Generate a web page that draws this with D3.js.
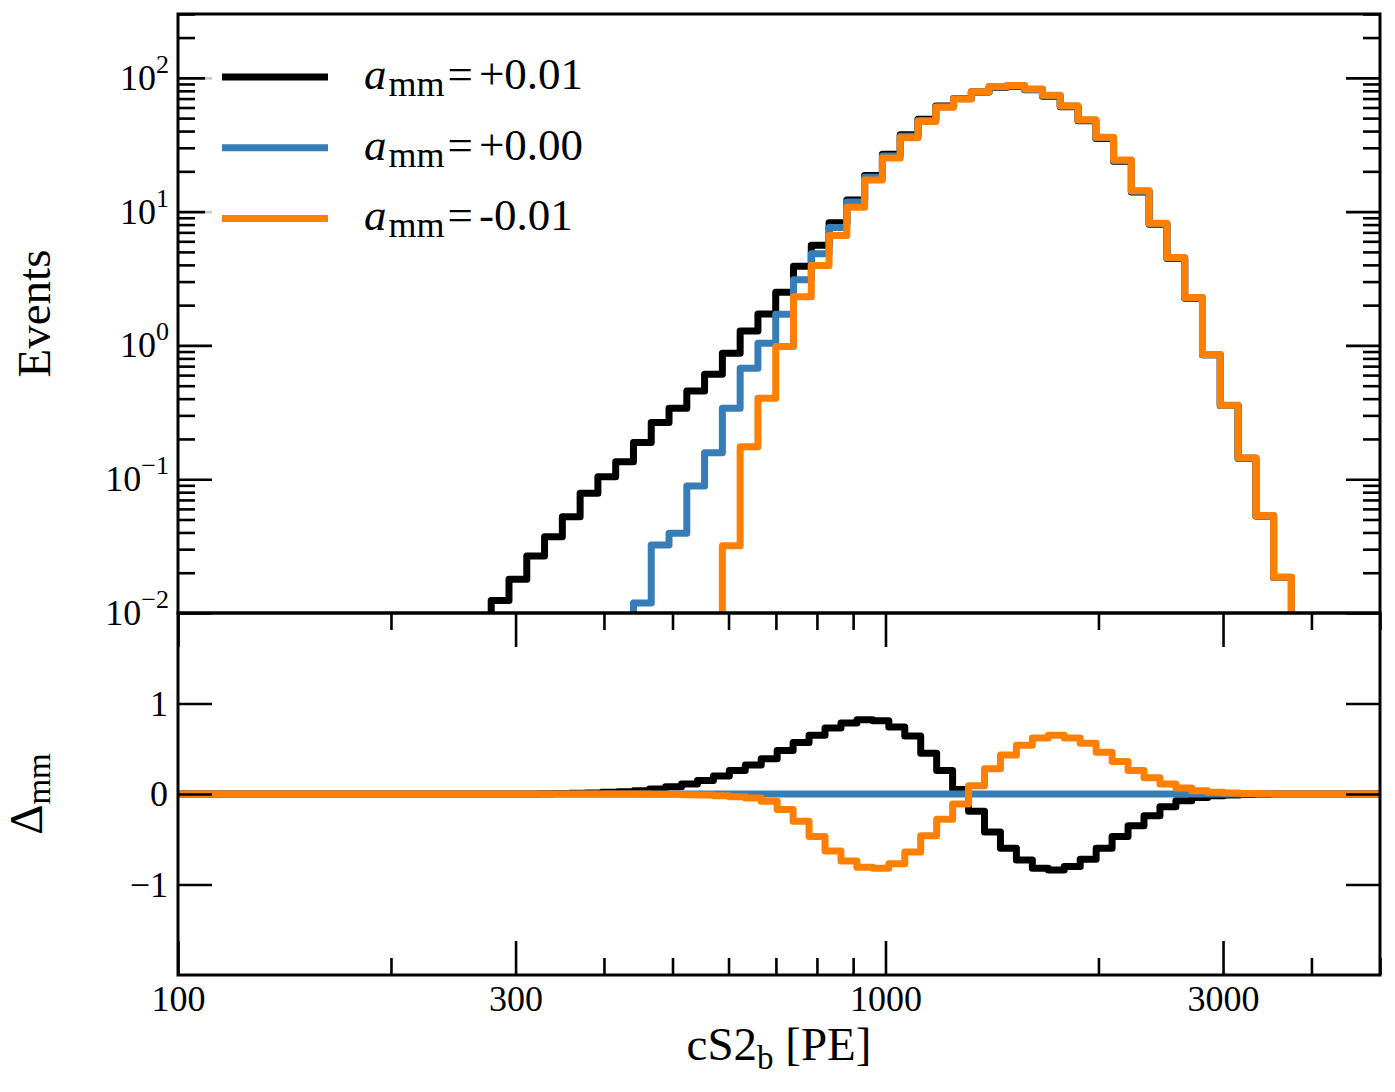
<!DOCTYPE html>
<html>
<head>
<meta charset="utf-8">
<script src="https://cdn.jsdelivr.net/npm/d3@7"></script>
<style>
  body { margin: 0; background: #fff; }
  svg text { font-family: "Liberation Serif", "DejaVu Serif", serif; fill: #000; }
</style>
</head>
<body>
<div class="chart"></div>
<script>
// bin edges (cS2_b in PE) of the event histograms, upper panel
const topEdges = [97.79, 103.62, 109.79, 116.33, 123.26, 130.61, 138.39, 146.63, 155.37, 164.63,
  174.43, 184.83, 195.84, 207.51, 219.87, 232.97, 246.85, 261.56, 277.14, 293.66,
  311.15, 329.69, 349.33, 370.15, 392.20, 415.57, 440.33, 466.56, 494.36, 523.81,
  555.02, 588.09, 623.13, 660.25, 699.59, 741.27, 785.44, 832.24, 881.82, 934.36,
  990.03, 1049.02, 1111.52, 1177.74, 1247.91, 1322.26, 1401.04, 1484.52, 1572.96, 1666.68,
  1765.98, 1871.20, 1982.68, 2100.81, 2225.98, 2358.60, 2499.13, 2648.03, 2805.79, 2972.96,
  3150.09, 3337.77, 3536.63, 3747.34, 3970.6, 4207.2, 4457.8, 4723.4, 5004.8];

// bin edges of the residual panel
const bottomEdges = [97.79, 103.00, 108.49, 114.27, 120.36, 126.77, 133.52, 140.63, 148.12, 156.01,
  164.32, 173.08, 182.30, 192.01, 202.24, 213.02, 224.37, 236.32, 248.91, 262.17,
  276.14, 290.85, 306.35, 322.67, 339.86, 357.97, 377.04, 397.13, 418.29, 440.57,
  464.04, 488.77, 514.81, 542.24, 571.13, 601.56, 633.61, 667.37, 702.92, 740.37,
  779.81, 821.36, 865.12, 911.21, 959.76, 1010.89, 1064.75, 1121.47, 1181.22, 1244.15,
  1310.44, 1380.26, 1453.79, 1531.25, 1612.83, 1698.76, 1789.26, 1884.59, 1984.99, 2090.75,
  2202.14, 2319.46, 2443.03, 2573.19, 2710.28, 2854.68, 3006.77, 3166.96, 3335.69, 3513.41,
  3700.59, 3897.75, 4105.41, 4324.14, 4554.52, 4797.17, 5052.75];

// events per bin
const eventsPlus = [0.0001, 0.0001, 0.0001, 0.0001, 0.0001, 0.0001, 0.0001, 0.0001, 0.0001, 0.0001,
  0.0003, 0.0005, 0.0008, 0.0013, 0.002, 0.0032, 0.005, 0.0078, 0.0124, 0.0179,
  0.0267, 0.0372, 0.0525, 0.0785, 0.1045, 0.135, 0.188, 0.265, 0.339, 0.457,
  0.609, 0.875, 1.28, 1.72, 2.5, 3.91, 5.61, 8.24, 12.2, 18.6,
  26.8, 37.5, 49.0, 61.5, 70.1, 78.4, 85.2, 86.6, 81.3, 72.9,
  60.8, 47.7, 35.2, 23.8, 14.0, 8.05, 4.47, 2.25, 0.85, 0.355,
  0.143, 0.053, 0.0184, 0.006, 0.0018, 0.0005, 0.0001, 0.0001];
const eventsZero = [0.0001, 0.0001, 0.0001, 0.0001, 0.0001, 0.0001, 0.0001, 0.0001, 0.0001, 0.0001,
  0.0001, 0.0001, 0.0001, 0.0001, 0.0001, 0.0001, 0.0001, 0.0001, 0.0001, 0.0002,
  0.0004, 0.0008, 0.0014, 0.0025, 0.0045, 0.0075, 0.0119, 0.0322, 0.0394, 0.089,
  0.158, 0.339, 0.674, 1.04, 1.71, 3.1, 4.85, 7.6, 11.8, 18.1,
  26.0, 36.6, 48.0, 60.8, 69.8, 78.6, 85.7, 87.2, 81.9, 73.5,
  61.3, 48.2, 35.6, 24.1, 14.2, 8.13, 4.51, 2.27, 0.853, 0.356,
  0.144, 0.0533, 0.0185, 0.006, 0.0018, 0.0005, 0.0001, 0.0001];
const eventsMinus = [0.0001, 0.0001, 0.0001, 0.0001, 0.0001, 0.0001, 0.0001, 0.0001, 0.0001, 0.0001,
  0.0001, 0.0001, 0.0001, 0.0001, 0.0001, 0.0001, 0.0001, 0.0001, 0.0001, 0.0001,
  0.0001, 0.0001, 0.0001, 0.0001, 0.0001, 0.0001, 0.0001, 0.0001, 0.0003, 0.002,
  0.006, 0.0318, 0.175, 0.403, 0.98, 2.31, 3.96, 6.62, 10.8, 17.2,
  25.2, 35.7, 47.2, 60.2, 69.6, 78.8, 86.1, 87.7, 82.4, 74.0,
  61.8, 48.6, 35.9, 24.3, 14.3, 8.2, 4.54, 2.28, 0.855, 0.357,
  0.144, 0.0535, 0.0185, 0.006, 0.0018, 0.0005, 0.0001, 0.0001];

// residuals per bin
const deltaPlus = [0, 0, 0, 0, 0, 0, 0, 0, 0, 0,
  0, 0, 0, 0, 0, 0, 0, 0, 0, 0,
  0, 0, 0, 0.003, 0.005, 0.008, 0.012, 0.018, 0.026, 0.037,
  0.055, 0.08, 0.11, 0.15, 0.2, 0.26, 0.32, 0.39, 0.48, 0.57,
  0.65, 0.73, 0.785, 0.82, 0.81, 0.74, 0.64, 0.45, 0.26, 0.05,
  -0.19, -0.42, -0.60, -0.73, -0.82, -0.84, -0.80, -0.72, -0.60, -0.47,
  -0.35, -0.24, -0.14, -0.075, -0.038, -0.02, -0.01, -0.005, -0.002, 0,
  0, 0, 0, 0, 0, 0];
const deltaZero = [0, 0, 0, 0, 0, 0, 0, 0, 0, 0,
  0, 0, 0, 0, 0, 0, 0, 0, 0, 0,
  0, 0, 0, 0, 0, 0, 0, 0, 0, 0,
  0, 0, 0, 0, 0, 0, 0, 0, 0, 0,
  0, 0, 0, 0, 0, 0, 0, 0, 0, 0,
  0, 0, 0, 0, 0, 0, 0, 0, 0, 0,
  0, 0, 0, 0, 0, 0, 0, 0, 0, 0,
  0, 0, 0, 0, 0, 0];
const deltaMinus = [0, 0, 0, 0, 0, 0, 0, 0, 0, 0,
  0, 0, 0, 0, 0, 0, 0, 0, 0, 0,
  0, 0, 0, 0, 0, 0, 0, 0, 0, -0.001,
  -0.002, -0.004, -0.007, -0.012, -0.02, -0.03, -0.045, -0.08, -0.17, -0.30,
  -0.47, -0.63, -0.74, -0.81, -0.82, -0.77, -0.64, -0.46, -0.28, -0.11,
  0.09, 0.28, 0.43, 0.54, 0.62, 0.65, 0.62, 0.56, 0.46, 0.36,
  0.26, 0.18, 0.11, 0.065, 0.037, 0.02, 0.01, 0.005, 0.002, 0,
  0, 0, 0, 0, 0, 0];

const seriesNames = ["+0.01", "+0.00", "-0.01"];
const seriesColors = ["#000000", "#377eb8", "#ff7f00"];

const xMajor = [100, 300, 1000, 3000];
const xMinor = [200, 400, 500, 600, 700, 800, 900, 2000, 4000, 5000];
const yTopMajor = [0.01, 0.1, 1, 10, 100];
const yTopExp = ["\u22122", "\u22121", "0", "1", "2"];
const yTopMinor = [0.02, 0.03, 0.04, 0.05, 0.06, 0.07, 0.08, 0.09,
  0.2, 0.3, 0.4, 0.5, 0.6, 0.7, 0.8, 0.9,
  2, 3, 4, 5, 6, 7, 8, 9,
  20, 30, 40, 50, 60, 70, 80, 90, 200, 300];
const yBotTicks = [-1, 0, 1];

const w = 1395, h = 1092;
const xL = 178, xR = 1380, yT = 14, yM = 613, yB = 975;
const major = 34, minor = 17;

const svg = d3.select(".chart").append("svg")
  .attr("width", w).attr("height", h);
svg.append("rect").attr("width", w).attr("height", h).attr("fill", "#fff");

const x = d3.scaleLog().domain([100, 5000]).range([xL, xR]);
const yTop = d3.scaleLog().domain([0.01, 300]).range([yM, yT]);
const yBot = d3.scaleLinear().domain([-2, 2]).range([yB, yM]);

const defs = svg.append("defs");
defs.append("clipPath").attr("id", "clipTop").append("rect")
  .attr("x", xL).attr("y", yT).attr("width", xR - xL).attr("height", yM - yT);
defs.append("clipPath").attr("id", "clipBot").append("rect")
  .attr("x", xL).attr("y", yM).attr("width", xR - xL).attr("height", yB - yM);

function steps(edges, vals) {
  const pts = vals.map((v, i) => [edges[i], v]);
  pts.push([edges[vals.length], vals[vals.length - 1]]);
  return pts;
}

const lineTop = d3.line().x(d => x(d[0])).y(d => yTop(d[1])).curve(d3.curveStepAfter);
const lineBot = d3.line().x(d => x(d[0])).y(d => yBot(d[1])).curve(d3.curveStepAfter);

const gTop = svg.append("g").attr("clip-path", "url(#clipTop)");
[eventsPlus, eventsZero, eventsMinus].forEach((s, i) => {
  gTop.append("path")
    .attr("d", lineTop(steps(topEdges, s)))
    .attr("fill", "none")
    .attr("stroke", seriesColors[i])
    .attr("stroke-width", 7)
    .attr("stroke-linejoin", "round");
});

const gBot = svg.append("g").attr("clip-path", "url(#clipBot)");
[deltaPlus, deltaZero, deltaMinus].forEach((s, i) => {
  gBot.append("path")
    .attr("d", lineBot(steps(bottomEdges, s)))
    .attr("fill", "none")
    .attr("stroke", seriesColors[i])
    .attr("stroke-width", 7)
    .attr("stroke-linejoin", "round");
});

// ticks
function tidy(g) {
  g.select(".domain").remove();
  g.selectAll(".tick line").attr("stroke", "#000").attr("stroke-width", 2.6);
  g.attr("font-family", null).attr("font-size", 36);
}

svg.append("g").attr("transform", `translate(0,${yB})`)
  .call(d3.axisBottom(x).tickValues(xMajor).tickSize(-major).tickPadding(10).tickFormat(d3.format("d")))
  .call(tidy);
svg.append("g").attr("transform", `translate(0,${yB})`)
  .call(d3.axisBottom(x).tickValues(xMinor).tickSize(-minor).tickFormat(""))
  .call(tidy);
svg.append("g").attr("transform", `translate(0,${yM})`)
  .call(d3.axisTop(x).tickValues(xMajor).tickSize(-major).tickFormat(""))
  .call(tidy);
svg.append("g").attr("transform", `translate(0,${yM})`)
  .call(d3.axisTop(x).tickValues(xMinor).tickSize(-minor).tickFormat(""))
  .call(tidy);

svg.append("g").attr("transform", `translate(${xL},0)`)
  .call(d3.axisLeft(yBot).tickValues(yBotTicks).tickSize(-major).tickPadding(10).tickFormat(d3.format("d")))
  .call(tidy);
svg.append("g").attr("transform", `translate(${xR},0)`)
  .call(d3.axisRight(yBot).tickValues(yBotTicks).tickSize(-major).tickFormat(""))
  .call(tidy);

[[d3.axisLeft, xL], [d3.axisRight, xR]].forEach(([ax, pos]) => {
  svg.append("g").attr("transform", `translate(${pos},0)`)
    .call(ax(yTop).tickValues(yTopMajor).tickSize(-major).tickFormat(""))
    .call(tidy);
  svg.append("g").attr("transform", `translate(${pos},0)`)
    .call(ax(yTop).tickValues(yTopMinor).tickSize(-minor).tickFormat(""))
    .call(tidy);
});

// 10^n labels
const yLab = svg.append("g");
yTopMajor.forEach((v, i) => {
  const t = yLab.append("text")
    .attr("x", xL - 9)
    .attr("y", yTop(v) + 12)
    .attr("text-anchor", "end")
    .attr("font-size", 36);
  t.append("tspan").text("10");
  t.append("tspan").attr("dy", -17).attr("font-size", 26).text(yTopExp[i]);
});

// frames
svg.append("rect").attr("x", xL).attr("y", yT).attr("width", xR - xL).attr("height", yM - yT)
  .attr("fill", "none").attr("stroke", "#000").attr("stroke-width", 3);
svg.append("rect").attr("x", xL).attr("y", yM).attr("width", xR - xL).attr("height", yB - yM)
  .attr("fill", "none").attr("stroke", "#000").attr("stroke-width", 3);

// axis labels
svg.append("text")
  .attr("transform", `translate(50,${(yT + yM) / 2}) rotate(-90)`)
  .attr("text-anchor", "middle")
  .attr("font-size", 47)
  .text("Events");

const dl = svg.append("text")
  .attr("transform", `translate(42,${(yM + yB) / 2}) rotate(-90)`)
  .attr("text-anchor", "middle")
  .attr("font-size", 47);
dl.append("tspan").text("\u0394");
dl.append("tspan").attr("dy", 8).attr("font-size", 33).text("mm");

const xl = svg.append("text")
  .attr("x", (xL + xR) / 2)
  .attr("y", 1060)
  .attr("text-anchor", "middle")
  .attr("font-size", 47);
xl.append("tspan").text("cS2");
xl.append("tspan").attr("dy", 9).attr("font-size", 33).text("b");
xl.append("tspan").attr("dy", -9).text(" [PE]");

// legend
const legend = svg.append("g");
legend.append("rect")
  .attr("x", 205).attr("y", 30).attr("width", 400).attr("height", 222)
  .attr("fill", "#fff").attr("fill-opacity", 0.8);
seriesNames.forEach((name, i) => {
  const ly = 77 + i * 70.7;
  legend.append("line")
    .attr("x1", 222).attr("x2", 328).attr("y1", ly).attr("y2", ly)
    .attr("stroke", seriesColors[i]).attr("stroke-width", 7);
  const t = legend.append("text")
    .attr("x", 364).attr("y", ly + 12)
    .attr("font-size", 45);
  t.append("tspan").attr("font-style", "italic").text("a");
  t.append("tspan").attr("dx", 2).attr("dy", 7).attr("font-size", 36).text("mm");
  t.append("tspan").attr("dx", 3).attr("dy", -7).text("=");
  t.append("tspan").attr("dx", 6).text(name);
});
</script>
</body>
</html>
